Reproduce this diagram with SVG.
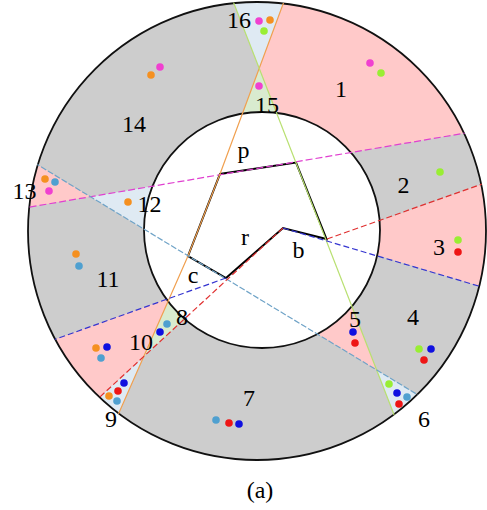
<svg xmlns="http://www.w3.org/2000/svg" width="487" height="510" viewBox="0 0 487 510">
<style>
.lbl{font-family:"Liberation Serif","Times New Roman",serif;font-size:24px;fill:#000;text-anchor:middle}
.pink{fill:#ffc9c9}
.lblue{fill:#dfeaf3}
.lgreen{fill:#d9ebcf}
.ln{fill:none;stroke-width:1.2}
.mag{stroke:#e040d0;stroke-dasharray:7 3}
.org{stroke:#f0a050}
.grn{stroke:#b8e070}
.lbl-line{stroke:#6fa3c7;stroke-dasharray:6 2}
.red{stroke:#e03030;stroke-dasharray:6 3}
.blu{stroke:#3535d0;stroke-dasharray:6 3}
.d{stroke:none}
.dm{fill:#f040d0}.do{fill:#f59020}.dg{fill:#99ee33}.db{fill:#1010e0}.dr{fill:#ee1515}.dl{fill:#4fa0d0}
</style>
<defs>
<clipPath id="ann"><path clip-rule="evenodd" d="M28,231a229,229 0 1,0 458,0a229,229 0 1,0 -458,0Z M144,230a118,118 0 1,0 236,0a118,118 0 1,0 -236,0Z"/></clipPath>
<clipPath id="disk"><circle cx="257" cy="231" r="229.5"/></clipPath>
</defs>
<rect width="487" height="510" fill="#fff"/>
<g id="regions" clip-path="url(#ann)">
<rect width="487" height="510" fill="#cdcdcd"/>
<polygon id="r1" class="pink" points="299,-40 259.2,68.2 295.7,161.9 520,123.8 520,-40"/>
<polygon id="r16" class="lblue" points="217,-40 259.2,68.2 299,-40"/>
<polygon id="r15" class="lgreen" points="259.2,68.2 302,180 218,180"/>
<polygon id="r3" class="pink" points="327,240 520,170.6 520,298.3"/>
<polygon id="r5" class="pink" points="376.7,370 250,293.3 330,250"/>
<polygon id="r6" class="lblue" points="376.7,370 419.5,480 480,432.5"/>
<polygon id="r12" class="lblue" points="90.4,196.7 200,178.1 200,263.1"/>
<polygon id="r13" class="pink" points="90.4,196.7 0,142 0,212.1"/>
<polygon id="r8" class="lgreen" points="143.7,356.5 188,256 226,280.6"/>
<polygon id="r9" class="lblue" points="143.7,356.5 60,433.8 93.7,470"/>
<polygon id="r10" class="pink" points="169.4,298.3 0,359.1 0,489 143.7,356.5"/>
</g>
<g id="circles" fill="none" stroke="#111" stroke-width="1.8">
<circle cx="257" cy="231" r="229"/>
<circle cx="262" cy="230" r="118"/>
</g>
<g id="shape" fill="none" stroke="#000" stroke-width="2" stroke-linejoin="miter">
<path d="M188,256 L220,174 L296,162.5 L326.5,239 L283,228 L226,278 Z"/>
</g>
<g id="connectors" clip-path="url(#disk)">
<line class="ln mag" x1="0" y1="212.1" x2="520" y2="123.8"/>
<polyline class="ln org" points="292,-20 220,174 188,256 107,440"/>
<line class="ln grn" x1="224.8" y1="-20" x2="407.8" y2="450"/>
<line class="ln lbl-line" x1="0" y1="142" x2="480" y2="432.5"/>
<line class="ln red" x1="283" y1="228" x2="60" y2="433.8"/>
<line class="ln red" x1="327" y1="239" x2="520" y2="170.6"/>
<line class="ln blu" x1="226" y1="278" x2="0" y2="359.1"/>
<line class="ln blu" x1="283" y1="228" x2="520" y2="298.3"/>
</g>
<g id="dots" class="d">
<g id="dots16"><circle class="dm" cx="259" cy="21" r="3.8"/><circle class="do" cx="270" cy="20" r="3.8"/><circle class="dg" cx="264" cy="31" r="3.8"/></g>
<g id="dots15"><circle class="dm" cx="259" cy="86" r="3.8"/></g>
<g id="dots1"><circle class="dm" cx="370" cy="63" r="3.8"/><circle class="dg" cx="381" cy="73" r="3.8"/></g>
<g id="dots14"><circle class="do" cx="151" cy="75" r="3.8"/><circle class="dm" cx="160" cy="67" r="3.8"/></g>
<g id="dots2"><circle class="dg" cx="440" cy="172" r="3.8"/></g>
<g id="dots3"><circle class="dg" cx="458" cy="240" r="3.8"/><circle class="dr" cx="458" cy="252" r="3.8"/></g>
<g id="dots13"><circle class="do" cx="45" cy="179" r="3.8"/><circle class="dl" cx="55" cy="182" r="3.8"/><circle class="dm" cx="49" cy="191" r="3.8"/></g>
<g id="dots12"><circle class="do" cx="128" cy="202" r="3.8"/></g>
<g id="dots11"><circle class="do" cx="76" cy="254" r="3.8"/><circle class="dl" cx="79" cy="266" r="3.8"/></g>
<g id="dots10"><circle class="do" cx="96" cy="348" r="3.8"/><circle class="db" cx="107" cy="347" r="3.8"/><circle class="dl" cx="101" cy="358" r="3.8"/></g>
<g id="dots8"><circle class="db" cx="160" cy="332" r="3.8"/><circle class="dl" cx="167" cy="324" r="3.8"/></g>
<g id="dots9"><circle class="db" cx="124" cy="383" r="3.8"/><circle class="dr" cx="118" cy="391" r="3.8"/><circle class="do" cx="109" cy="396" r="3.8"/><circle class="dl" cx="117" cy="401" r="3.8"/></g>
<g id="dots7"><circle class="dl" cx="216" cy="420" r="3.8"/><circle class="dr" cx="229" cy="423" r="3.8"/><circle class="db" cx="239" cy="424" r="3.8"/></g>
<g id="dots5"><circle class="db" cx="353" cy="332" r="3.8"/><circle class="dr" cx="355" cy="343" r="3.8"/></g>
<g id="dots4"><circle class="dg" cx="419" cy="349" r="3.8"/><circle class="db" cx="431" cy="349" r="3.8"/><circle class="dr" cx="424" cy="360" r="3.8"/></g>
<g id="dots6"><circle class="dg" cx="389" cy="384" r="3.8"/><circle class="db" cx="397" cy="393" r="3.8"/><circle class="dl" cx="407" cy="397" r="3.8"/><circle class="dr" cx="399" cy="404" r="3.8"/></g>
</g>
<g id="labels">
<text class="lbl" x="239" y="28">16</text>
<text class="lbl" x="341" y="97">1</text>
<text class="lbl" x="267" y="113">15</text>
<text class="lbl" x="134" y="132">14</text>
<text class="lbl" x="24.5" y="199">13</text>
<text class="lbl" x="149.5" y="212">12</text>
<text class="lbl" x="243.5" y="158">p</text>
<text class="lbl" x="403.5" y="193">2</text>
<text class="lbl" x="245" y="245">r</text>
<text class="lbl" x="298.5" y="258">b</text>
<text class="lbl" x="439" y="255">3</text>
<text class="lbl" x="193" y="283">c</text>
<text class="lbl" x="108" y="287">11</text>
<text class="lbl" x="182" y="325">8</text>
<text class="lbl" x="141" y="350">10</text>
<text class="lbl" x="355" y="327">5</text>
<text class="lbl" x="413" y="325">4</text>
<text class="lbl" x="111" y="427">9</text>
<text class="lbl" x="249" y="406">7</text>
<text class="lbl" x="424" y="427">6</text>
<text class="lbl" x="260" y="498">(a)</text>
</g>
</svg>
